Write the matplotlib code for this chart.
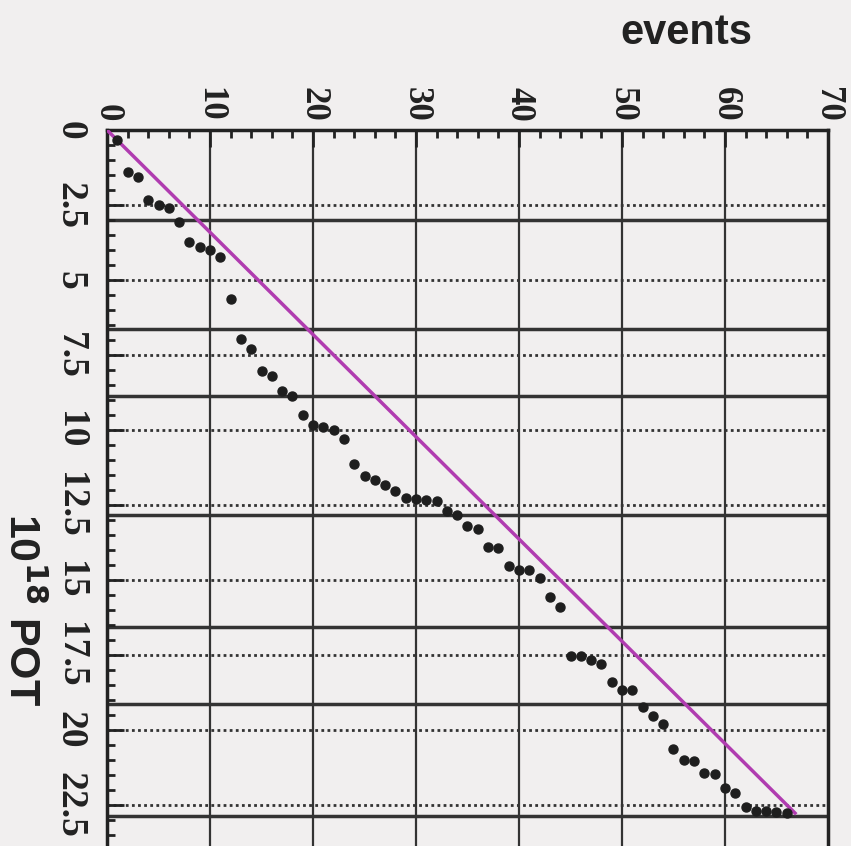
import matplotlib
matplotlib.use('Agg')
import matplotlib.pyplot as plt
from matplotlib.ticker import MultipleLocator

# cumulative event count vs. delivered protons on target (10^18 POT)
events = list(range(1, 67))
pot = [0.35, 1.40, 1.57, 2.33, 2.50, 2.60, 3.07, 3.73, 3.90, 4.00,
       4.23, 5.63, 6.97, 7.30, 8.03, 8.20, 8.70, 8.87, 9.50, 9.83,
       9.90, 10.00, 10.30, 11.13, 11.53, 11.67, 11.83, 12.03, 12.27, 12.30,
       12.33, 12.37, 12.70, 12.83, 13.20, 13.30, 13.90, 13.93, 14.53, 14.67,
       14.67, 14.93, 15.57, 15.90, 17.53, 17.53, 17.67, 17.80, 18.40, 18.67,
       18.67, 19.23, 19.53, 19.80, 20.63, 21.00, 21.03, 21.43, 21.47, 21.93,
       22.10, 22.57, 22.70, 22.70, 22.73, 22.77]

# expectation line
exp_events = [0, 66.8]
exp_pot = [0, 22.77]

# horizontal solid lines (run boundaries, in 10^18 POT)
run_bounds = [3.0, 6.63, 8.87, 12.83, 16.57, 19.13, 22.87]

bg = '#f1efef'
fig = plt.figure(figsize=(8.51, 8.46), dpi=100, facecolor=bg)
ax = fig.add_axes([107/851, 0.0, (828-107)/851, 1 - 130/846])
ax.set_facecolor(bg)

ax.set_xlim(0, 70)
ax.set_ylim(716/30, 0)

ax.xaxis.set_major_locator(MultipleLocator(10))
ax.xaxis.set_minor_locator(MultipleLocator(2))
ax.yaxis.set_major_locator(MultipleLocator(2.5))
ax.yaxis.set_minor_locator(MultipleLocator(0.5))
ax.xaxis.tick_top()

ax.tick_params(which='both', direction='in', color='#222', width=2,
               top=True, bottom=False, left=True, right=False)
ax.tick_params(which='major', length=12)
ax.tick_params(which='minor', length=6)
ax.tick_params(axis='x', which='major', pad=6)
ax.tick_params(axis='y', which='major', pad=14)

xticks = [0, 10, 20, 30, 40, 50, 60, 70]
yticks = [0, 2.5, 5, 7.5, 10, 12.5, 15, 17.5, 20, 22.5]
ax.set_xticks(xticks)
ax.set_xticklabels([str(v) for v in xticks], rotation=-90, va='bottom',
                   family='Liberation Serif', fontweight='bold', fontsize=25,
                   color='#222')
ax.set_yticks(yticks)
ax.set_yticklabels(['0', '2.5', '5', '7.5', '10', '12.5', '15', '17.5', '20', '22.5'],
                   rotation=-90, ha='right', va='center',
                   family='Liberation Serif', fontweight='bold', fontsize=27,
                   color='#222')

for s in ['left', 'top', 'right']:
    ax.spines[s].set_linewidth(2.5)
    ax.spines[s].set_color('#222')
ax.spines['bottom'].set_visible(False)

# grid
for xv in xticks[1:-1]:
    ax.axvline(xv, color='#333', lw=1.6, zorder=1)
for yv in yticks[1:]:
    ax.axhline(yv, color='#333', lw=2, ls=(0, (1, 1.2)), zorder=1)
for yv in run_bounds:
    ax.axhline(yv, color='#333', lw=2.5, zorder=1)

ax.plot(exp_events, exp_pot, color='#b03cb0', lw=2.5, zorder=3)
ax.plot(events, pot, 'o', color='#1e1e1e', ms=6.5, zorder=4)

fig.text(686/851, 1 - 33/846, 'events', ha='center', va='center',
         family='Liberation Sans', fontweight='bold', fontsize=30, color='#222')
fig.text(21/851, 1 - 610/846, r'10$^{\mathbf{18}}$ POT', ha='center', va='center',
         rotation=-90, family='Liberation Sans', fontweight='bold',
         fontsize=31, color='#222')

fig.savefig('out.png', dpi=100, facecolor=bg)
